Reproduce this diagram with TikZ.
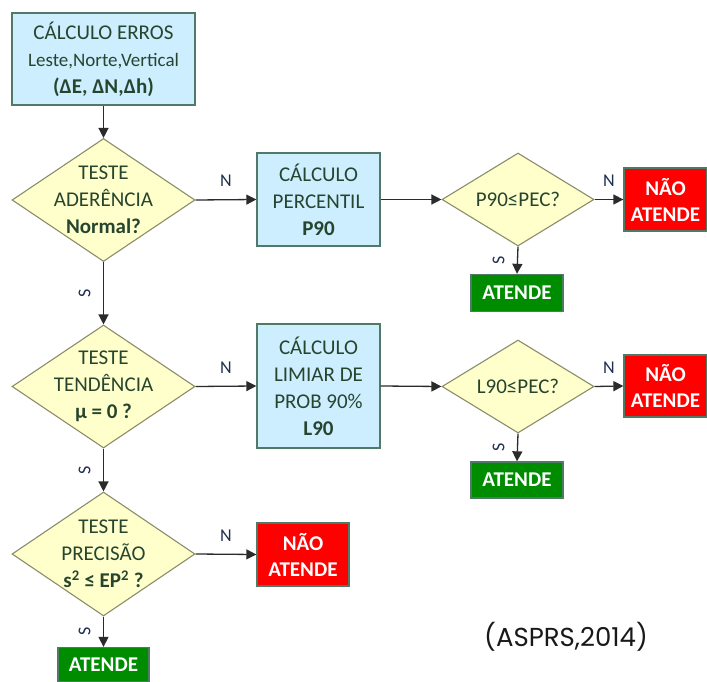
\documentclass[tikz,border=0pt]{standalone}
\usepackage{fontspec}
\setmainfont{Carlito}
\newfontfamily\fonteref{Poppins}
\usetikzlibrary{shapes.geometric, arrows.meta}
\tikzset{>={Triangle[length=10pt,width=10pt]}}
\definecolor{azulclaro}{HTML}{CCEEFF}
\definecolor{amareloclaro}{HTML}{FFFFCC}
\definecolor{bordaverde}{HTML}{4F7A66}
\definecolor{bordaoliva}{HTML}{8C8C6A}
\definecolor{textoverde}{HTML}{27452E}
\definecolor{vermelho}{HTML}{FF0000}
\definecolor{verde}{HTML}{008C00}
\definecolor{rotulocor}{HTML}{1F2F4F}
\definecolor{linha}{HTML}{2B2B2B}

\begin{document}
\begin{tikzpicture}[x=1pt,y=-1pt,
    txt/.style={text=textoverde, font=\fontsize{21}{27}\selectfont, align=center},
    caixa/.style={draw=bordaverde, line width=1.3pt, fill=azulclaro, inner sep=0pt, txt},
    decisao/.style={diamond, draw=bordaoliva, line width=1.1pt, fill=amareloclaro, inner sep=0pt},
    naoatende/.style={draw=bordaverde, line width=1.3pt, fill=vermelho, inner sep=0pt, text=white,
      font=\fontsize{21}{26}\selectfont\bfseries, align=center, minimum width=83pt, minimum height=63pt},
    atende/.style={draw=bordaverde, line width=1.3pt, fill=verde, inner sep=0pt, text=white,
      font=\fontsize{21}{26}\selectfont\bfseries, minimum width=92pt, minimum height=37pt},
    seta/.style={->, draw=linha, line width=1.3pt},
    rotn/.style={midway, yshift=19pt, inner sep=0pt, text=rotulocor, font=\fontsize{18}{18}\selectfont},
    rots/.style={midway, xshift=-19pt, inner sep=0pt, rotate=90, text=rotulocor, font=\fontsize{18}{18}\selectfont}]
  \useasboundingbox (0,0) rectangle (707,682);

  % coluna da esquerda
  \node[caixa, minimum width=183pt, minimum height=92pt] (erros) at (103.5,59)
    {CÁLCULO ERROS\\{\fontsize{19}{26}\selectfont Leste,Norte,Vertical}\\\textbf{(ΔE, ΔN,Δh)}};
  \node[decisao, minimum width=183pt, minimum height=123pt,
    label={[txt]center:{TESTE\\ADERÊNCIA\\\textbf{Normal?}}}] (aderencia) at (103.5,200) {};
  \node[decisao, minimum width=183pt, minimum height=123pt,
    label={[txt]center:{TESTE\\TENDÊNCIA\\\textbf{μ = 0 ?}}}] (tendencia) at (103.5,386.5) {};
  \node[decisao, minimum width=183pt, minimum height=124pt,
    label={[txt]center:{TESTE\\PRECISÃO\\\textbf{s\textsuperscript{2} ≤ EP\textsuperscript{2} ?}}}] (precisao) at (103.5,554) {};
  \node[atende, minimum width=91pt, minimum height=34pt] (atende3) at (103.5,664.5) {ATENDE};
  \node[naoatende, minimum width=92pt] (nao3) at (303,554.5) {NÃO\\ATENDE};

  % linha da aderencia
  \node[caixa, minimum width=123pt, minimum height=93pt] (percentil) at (318.5,199.5)
    {CÁLCULO\\PERCENTIL\\\textbf{P90}};
  \node[decisao, minimum width=152pt, minimum height=93pt,
    label={[txt]center:{P90≤PEC?}}] (pnoventa) at (518,199.5) {};
  \node[naoatende] (nao1) at (665.5,199.5) {NÃO\\ATENDE};
  \node[atende] (atende1) at (517,293) {ATENDE};

  % linha da tendencia
  \node[caixa, minimum width=123pt, minimum height=124pt] (limiar) at (318.5,386)
    {CÁLCULO\\LIMIAR DE\\PROB 90\%\\\textbf{L90}};
  \node[decisao, minimum width=152pt, minimum height=93pt,
    label={[txt]center:{L90≤PEC?}}] (lnoventa) at (518,386.5) {};
  \node[naoatende, minimum height=62pt] (nao2) at (665.5,386) {NÃO\\ATENDE};
  \node[atende, minimum height=36pt] (atende2) at (517,480) {ATENDE};

  \node[font=\fonteref\fontsize{26}{26}\selectfont, text=black!90] (fonte) at (566,637) {(ASPRS,2014)};

  % ligacoes
  \draw[seta] (erros) -- (aderencia);
  \draw[seta] (aderencia.east) -- (percentil.west) node[rotn] {N};
  \draw[seta] (percentil.east) -- (pnoventa.west);
  \draw[seta] (pnoventa.east) -- (nao1.west) node[rotn] {N};
  \draw[seta] (pnoventa.south) -- (atende1.north) node[rots] {S};
  \draw[seta] (aderencia.south) -- (tendencia.north) node[rots] {S};
  \draw[seta] (tendencia.east) -- (limiar.west) node[rotn] {N};
  \draw[seta] (limiar.east) -- (lnoventa.west);
  \draw[seta] (lnoventa.east) -- (nao2.west) node[rotn] {N};
  \draw[seta] (lnoventa.south) -- (atende2.north) node[rots] {S};
  \draw[seta] (tendencia.south) -- (precisao.north) node[rots] {S};
  \draw[seta] (precisao.east) -- (nao3.west) node[rotn] {N};
  \draw[seta] (precisao.south) -- (atende3.north) node[rots] {S};
\end{tikzpicture}
\end{document}
